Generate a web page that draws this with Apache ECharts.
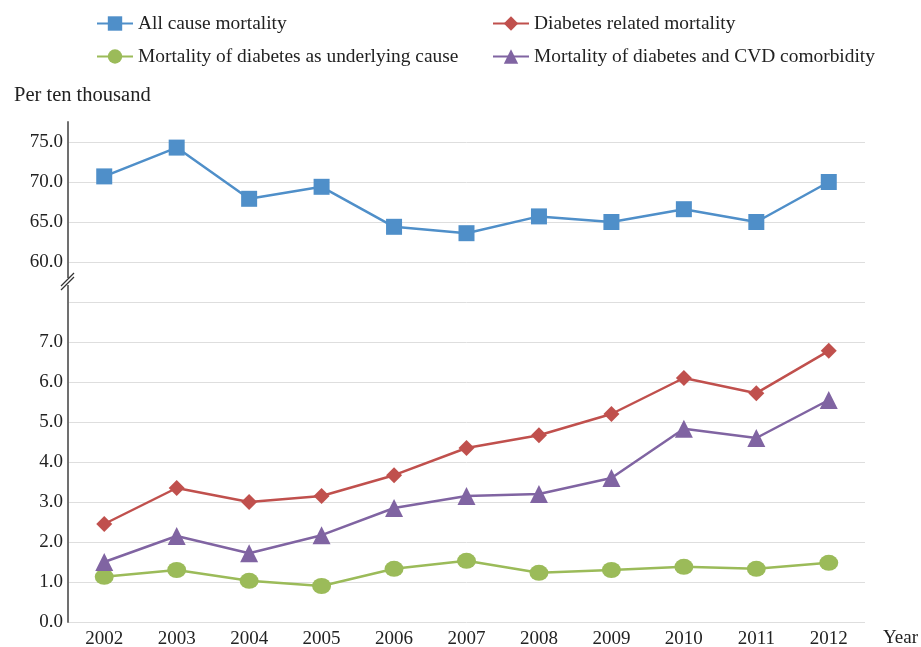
<!DOCTYPE html>
<html><head><meta charset="utf-8">
<script src="https://cdn.jsdelivr.net/npm/echarts@6/dist/echarts.min.js"></script>
<style>html,body{margin:0;padding:0;background:#fff}#c{width:921px;height:647px}</style>
</head><body><div id="c"></div>
<script>
const years = ['2002','2003','2004','2005','2006','2007','2008','2009','2010','2011','2012'];
const allCause = [70.7, 74.3, 67.9, 69.4, 64.4, 63.6, 65.7, 65.0, 66.6, 65.0, 70.0];
const diabetesRelated = [2.45, 3.35, 3.0, 3.15, 3.67, 4.35, 4.67, 5.2, 6.1, 5.72, 6.78];
const underlying = [1.13, 1.3, 1.03, 0.9, 1.33, 1.53, 1.23, 1.3, 1.38, 1.33, 1.48];
const cvd = [1.5, 2.15, 1.72, 2.17, 2.85, 3.15, 3.2, 3.6, 4.83, 4.6, 5.55];
const topTicks = [60, 65, 70, 75];

const names = ['All cause mortality','Diabetes related mortality','Mortality of diabetes as underlying cause','Mortality of diabetes and CVD comorbidity'];
const colors = ['#4F8FC9','#C0504D','#9BBB59','#8064A2'];
const font = 'Liberation Serif';
const txt = {fontFamily: font, fontSize: 19, color: '#222'};
const legTxt = Object.assign({}, txt, {fontSize: 19.4});
const grid = '#dedede';

const chart = echarts.init(document.getElementById('c'));
chart.setOption({
  animation: false,
  color: colors,
  textStyle: {fontFamily: font},
  legend: [
    {data: [names[0], names[2]], orient: 'vertical', left: 91, top: 9, itemGap: 14, itemWidth: 36, itemHeight: 18, textStyle: legTxt},
    {data: [names[1], names[3]], orient: 'vertical', left: 487, top: 9, itemGap: 14, itemWidth: 36, itemHeight: 18, textStyle: legTxt}
  ],
  title: [
    {text: 'Per ten thousand', left: 9, top: 80, textStyle: Object.assign({}, txt, {fontWeight: 'normal', fontSize: 20.5})},
    {text: 'Year', left: 878, top: 624, textStyle: Object.assign({}, txt, {fontWeight: 'normal'})}
  ],
  grid: [
    {left: 68, right: 56, top: 122, bottom: 385, outerBoundsMode: 'none', containLabel: false},
    {left: 68, right: 56, top: 262, bottom: 25, outerBoundsMode: 'none', containLabel: false}
  ],
  xAxis: [
    {type: 'category', data: years, gridIndex: 0, show: false, boundaryGap: true},
    {type: 'category', data: years, gridIndex: 1, boundaryGap: true,
     axisLine: {show: false}, axisTick: {show: false},
     axisLabel: Object.assign({margin: 8}, txt)}
  ],
  yAxis: [
    {type: 'value', gridIndex: 0, min: 60, max: 77.5, interval: 5,
     axisLine: {show: true, lineStyle: {color: '#707070', width: 2}},
     axisTick: {show: false},
     axisLabel: Object.assign({margin: 5, formatter: v => topTicks.indexOf(v) >= 0 ? v.toFixed(1) : ''}, txt),
     splitLine: {show: true, lineStyle: {color: [grid, grid, grid, grid, 'rgba(0,0,0,0)']}}},
    {type: 'value', gridIndex: 1, min: 0, max: 9, interval: 1,
     axisLine: {show: true, lineStyle: {color: '#707070', width: 2}},
     axisTick: {show: false},
     axisLabel: Object.assign({margin: 5, formatter: v => v <= 7 ? v.toFixed(1) : ''}, txt),
     splitLine: {show: true, lineStyle: {color: grid}}}
  ],
  series: [
    {name: names[0], type: 'line', xAxisIndex: 0, yAxisIndex: 0, data: allCause, symbol: 'rect', symbolSize: 16, lineStyle: {width: 2.5}},
    {name: names[1], type: 'line', xAxisIndex: 1, yAxisIndex: 1, data: diabetesRelated, symbol: 'diamond', symbolSize: 16, lineStyle: {width: 2.5}},
    {name: names[2], type: 'line', xAxisIndex: 1, yAxisIndex: 1, data: underlying, symbol: 'circle', symbolSize: [19, 16], lineStyle: {width: 2.5}},
    {name: names[3], type: 'line', xAxisIndex: 1, yAxisIndex: 1, data: cvd, symbol: 'triangle', symbolSize: 18, lineStyle: {width: 2.5}}
  ],
  graphic: [
    {type: 'rect', shape: {x: 66, y: 278, width: 4, height: 7}, style: {fill: '#fff'}, z: 100},
    {type: 'line', shape: {x1: 61, y1: 286, x2: 74, y2: 273}, style: {stroke: '#333', lineWidth: 1.2}, z: 101},
    {type: 'line', shape: {x1: 61, y1: 290, x2: 74, y2: 277}, style: {stroke: '#333', lineWidth: 1.2}, z: 101}
  ]
});
</script></body></html>
